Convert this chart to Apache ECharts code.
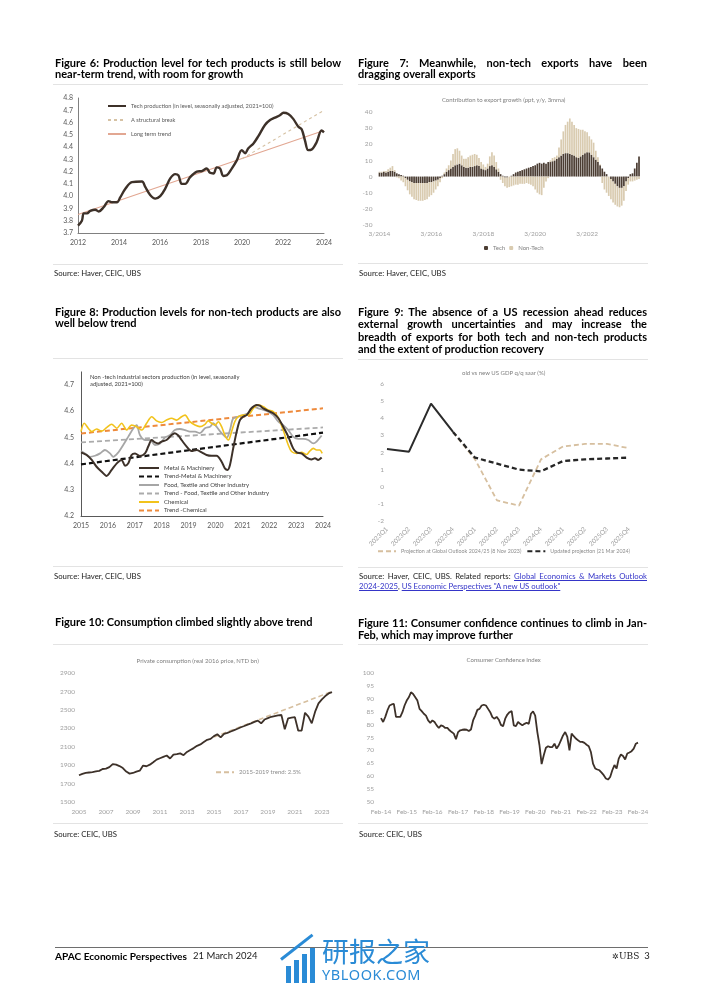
<!DOCTYPE html>
<html><head><meta charset="utf-8">
<script src="https://cdn.jsdelivr.net/npm/echarts@6.0.0/dist/echarts.min.js"></script>
<style>
html,body{margin:0;padding:0;background:#fff}
body{position:relative;width:702px;height:992px;overflow:hidden;font-family:Lato,"Noto Sans",sans-serif}
#chart{position:absolute;left:0;top:0;width:702px;height:992px}
.t{position:absolute;white-space:nowrap;line-height:12px}
.h{font-weight:700;font-size:10px;color:#000}
.s{font-size:8px;color:#222;line-height:10px}
.sub{font-size:6px;color:#7f7f7f;line-height:8px;transform:translateX(-50%)}
.note{font-size:5.8px;color:#404040;line-height:6.8px}
.r{position:absolute;height:1px;background:#e3e3e3}
a{color:#3535c8;text-decoration:underline}
</style></head><body>
<div id="chart"></div>

<!-- headings -->
<div class="t h" data-w="286" style="left:55px;top:56.7px"><span>Figure 6: Production level for tech products is still below</span></div>
<div class="t h" style="left:55px;top:68px"><span>near-term trend, with room for growth</span></div>
<div class="t h" data-w="289" style="left:358px;top:56.7px"><span>Figure 7: Meanwhile, non-tech exports have been</span></div>
<div class="t h" style="left:358px;top:68px"><span>dragging overall exports</span></div>
<div class="t h" data-w="286" style="left:55px;top:305.7px"><span>Figure 8: Production levels for non-tech products are also</span></div>
<div class="t h" style="left:55px;top:317.3px"><span>well below trend</span></div>
<div class="t h" data-w="289" style="left:358px;top:305.7px"><span>Figure 9: The absence of a US recession ahead reduces</span></div>
<div class="t h" data-w="289" style="left:358px;top:318px"><span>external growth uncertainties and may increase the</span></div>
<div class="t h" data-w="289" style="left:358px;top:330.7px"><span>breadth of exports for both tech and non-tech products</span></div>
<div class="t h" style="left:358px;top:343.3px"><span>and the extent of production recovery</span></div>
<div class="t h" id="h10" style="left:55px;top:615.7px"><span>Figure 10: Consumption climbed slightly above trend</span></div>
<div class="t h" data-w="289" style="left:358px;top:617.3px"><span>Figure 11: Consumer confidence continues to climb in Jan-</span></div>
<div class="t h" style="left:358px;top:629px"><span>Feb, which may improve further</span></div>

<!-- rules -->
<div class="r" style="left:53px;top:84px;width:290px"></div>
<div class="r" style="left:358px;top:84px;width:290px"></div>
<div class="r" style="left:53px;top:264px;width:290px"></div>
<div class="r" style="left:358px;top:263px;width:290px"></div>
<div class="r" style="left:53px;top:358px;width:290px"></div>
<div class="r" style="left:358px;top:359px;width:290px"></div>
<div class="r" style="left:53px;top:566px;width:290px"></div>
<div class="r" style="left:358px;top:567px;width:290px"></div>
<div class="r" style="left:53px;top:644px;width:290px"></div>
<div class="r" style="left:358px;top:644px;width:290px"></div>
<div class="r" style="left:53px;top:823px;width:290px"></div>
<div class="r" style="left:358px;top:823px;width:290px"></div>
<div class="r" style="left:55px;top:947px;width:593px;background:#6e6e6e"></div>

<!-- sources -->
<div class="t s" id="src6" style="left:54px;top:267.7px"><span>Source: Haver, CEIC, UBS</span></div>
<div class="t s" style="left:359px;top:267.7px"><span>Source: Haver, CEIC, UBS</span></div>
<div class="t s" style="left:54px;top:571px"><span>Source: Haver, CEIC, UBS</span></div>
<div class="t s" data-w="288" style="left:359px;top:571px"><span>Source: Haver, CEIC, UBS. Related reports: <a>Global Economics &amp; Markets Outlook</a></span></div>
<div class="t s" style="left:359px;top:580.7px"><span><a>2024-2025</a>, <a>US Economic Perspectives "A new US outlook"</a></span></div>
<div class="t s" style="left:54px;top:829.3px"><span>Source: CEIC, UBS</span></div>
<div class="t s" style="left:359px;top:829.3px"><span>Source: CEIC, UBS</span></div>

<!-- chart inner titles / notes -->
<div class="t sub" style="left:503.7px;top:96px">Contribution to export growth (ppt, y/y, 3mma)</div>
<div class="t sub" style="left:503.7px;top:369px">old vs new US GDP q/q saar (%)</div>
<div class="t sub" style="left:197.7px;top:656.7px">Private consumption (real 2016 price, NTD bn)</div>
<div class="t sub" style="left:503.7px;top:656px">Consumer Confidence Index</div>
<div class="t note" style="left:90px;top:374px">Non -tech industrial sectors production (in level, seasonally<br>adjusted, 2021=100)</div>

<!-- footer -->
<div class="t" id="foot1" style="left:55px;top:950px;font-weight:700;font-size:9.5px;color:#000"><span>APAC Economic Perspectives</span></div>
<div class="t" style="left:193px;top:950px;font-size:9.5px;color:#222"><span>21 March 2024</span></div>
<div class="t" style="left:612px;top:950px;font-size:9.5px;color:#222"><span style="font-size:8px">✲</span><span style="font-family:'DejaVu Serif';font-size:9px">UBS</span>&nbsp;&nbsp;3</div>

<!-- watermark -->
<div style="position:absolute;left:286px;top:966px;width:5px;height:17px;background:#2a8bd6"></div>
<div style="position:absolute;left:294px;top:960px;width:5px;height:23px;background:#2a8bd6"></div>
<div style="position:absolute;left:302px;top:954px;width:5px;height:29px;background:#2a8bd6"></div>
<div style="position:absolute;left:310px;top:948px;width:5px;height:35px;background:#2a8bd6"></div>
<div style="position:absolute;left:281px;top:958px;width:40px;height:3px;background:#2a8bd6;transform:rotate(-38deg);transform-origin:left center"></div>
<div class="t" style="left:322px;top:935px;line-height:32px;font-family:'Noto Sans CJK SC';font-size:27px;color:#2a8bd6">研报之家</div>
<div class="t" style="left:322px;top:965px;line-height:18px;font-family:'Noto Sans';font-size:14.5px;color:#2a8bd6;letter-spacing:0.6px">YBLOOK.COM</div>

<script>
// ================= DATA =================
// Figure 6: tech production (log level)
const fig6Years = [2012.00,2012.19,2012.28,2012.44,2012.60,2012.84,2013.01,2013.25,2013.49,2013.66,2013.90,2014.06,2014.31,2014.63,2015.12,2015.28,2015.52,2015.77,2016.01,2016.25,2016.50,2016.74,2016.90,2017.06,2017.23,2017.47,2017.80,2018.04,2018.28,2018.44,2018.61,2018.77,2018.93,2019.09,2019.26,2019.50,2019.74,2019.99,2020.15,2020.31,2020.56,2020.80,2021.12,2021.37,2021.61,2021.85,2022.02,2022.26,2022.50,2022.75,2022.91,2023.07,2023.23,2023.40,2023.64,2023.88,2024.00];
const fig6Tech = [3.76,3.80,3.86,3.86,3.88,3.89,3.875,3.91,3.96,3.95,3.95,3.99,4.06,4.115,4.12,4.075,4.01,3.98,4.00,4.06,4.145,4.18,4.17,4.10,4.10,4.155,4.20,4.205,4.225,4.19,4.185,4.235,4.225,4.165,4.17,4.225,4.29,4.375,4.35,4.39,4.43,4.49,4.58,4.62,4.64,4.66,4.68,4.67,4.63,4.565,4.545,4.455,4.375,4.38,4.44,4.535,4.52];
const fig6TrendYears = [2012, 2024];
const fig6Trend = [3.85, 4.535];
const fig6BreakYears = [2020, 2024];
const fig6Break = [4.305, 4.70];

// Figure 7: contribution to export growth, monthly from 3/2014
const fig7Start = [2014, 3];
const fig7Tech = [2.5,2.5,3,2.5,3,3.5,3.5,3,2,1.5,
 1,0.5,-1,-2,-3,-3.5,-4,-4,-4,-4,
 -4,-4,-4,-3.5,-3.5,-3,-2.5,-2,-1,0.5,
 1.5,3,4,5,6,7,7.5,8,7,6,
 5.5,5.5,6,6,6.5,7,6.5,5,4.5,4,
 5,6.5,7,6,4.5,3,1.5,0.5,-0.5,-0.5,
 0,0.5,1.5,2.5,3,3.5,4,4.5,5,5.5,
 6,6.5,7,8,8.5,8,8.5,8,9,9,
 9.5,10,11,12,13,14,14.5,14.5,14,13.5,
 13,12,11.5,12.5,13.5,14.5,15,15,13.5,12,
 10.5,9,7,5,3,1.5,0,-1.5,-3,-4.5,
 -6,-7,-7,-6,-3,-1,1.5,2,5,8.5,
 12.5];
const fig7NonTech = [0.5,0.5,0.5,1,1.5,2,3,1,-0.5,-1,
 -2.5,-3.5,-5,-6.5,-8,-9,-10,-10.5,-11,-11,
 -11,-10.5,-10,-9,-8,-7,-5.5,-4,-2.5,-1,
 1,2,3,5,8,10,10,8,6,5,
 5.5,6.5,7,7.5,7.5,6.5,5,4,3,2,
 3,6,8,7,4.5,2,-2,-4,-5.5,-6.5,
 -6.5,-6,-5.5,-5,-5,-4.5,-4.5,-4.5,-4,-4.5,
 -5,-6,-8,-10,-11,-11.5,-7,-3,-1,1,
 2,2,2,6,10,14,17.5,19.5,22,20.5,
 19,18,18,16.5,15.5,13.5,12.5,10,9.5,9,
 5.5,3,0.5,-4,-8,-10,-12,-12.5,-13,-13,
 -12.5,-12,-11,-9,-6,-4,-3,-3,-2.5,-2,
 -1.5];
const fig7TickLabels = ['3/2014','3/2016','3/2018','3/2020','3/2022'];

// Figure 8: non-tech production (log level)
const fig8MetalYears = [2015.00,2015.21,2015.40,2015.58,2015.77,2015.95,2016.14,2016.33,2016.51,2016.64,2016.76,2016.88,2017.01,2017.19,2017.38,2017.50,2017.63,2017.75,2017.87,2018.00,2018.18,2018.37,2018.49,2018.62,2018.74,2018.93,2019.11,2019.30,2019.49,2019.67,2019.86,2020.04,2020.23,2020.35,2020.45,2020.54,2020.66,2020.79,2020.91,2021.03,2021.16,2021.34,2021.53,2021.65,2021.78,2021.96,2022.15,2022.34,2022.52,2022.71,2022.89,2023.02,2023.20,2023.39,2023.57,2023.70,2023.82,2023.95];
const fig8Metal = [4.443,4.433,4.414,4.388,4.369,4.353,4.376,4.401,4.414,4.392,4.401,4.433,4.439,4.429,4.439,4.465,4.490,4.481,4.477,4.484,4.490,4.509,4.516,4.507,4.490,4.465,4.448,4.452,4.443,4.433,4.430,4.430,4.407,4.382,4.376,4.395,4.458,4.522,4.566,4.579,4.585,4.611,4.624,4.621,4.611,4.601,4.592,4.573,4.541,4.503,4.458,4.443,4.439,4.423,4.416,4.420,4.414,4.423];
const fig8FoodYears = [2015.00,2015.15,2015.33,2015.52,2015.71,2015.89,2016.08,2016.20,2016.39,2016.57,2016.76,2016.95,2017.07,2017.19,2017.38,2017.57,2017.75,2017.94,2018.12,2018.31,2018.49,2018.68,2018.87,2019.05,2019.24,2019.42,2019.61,2019.80,2019.92,2020.04,2020.23,2020.42,2020.54,2020.66,2020.85,2021.03,2021.22,2021.41,2021.59,2021.78,2021.96,2022.15,2022.34,2022.52,2022.71,2022.89,2023.08,2023.27,2023.45,2023.64,2023.76,2023.95];
const fig8Food = [4.448,4.439,4.426,4.430,4.439,4.452,4.439,4.426,4.443,4.471,4.503,4.535,4.547,4.509,4.490,4.490,4.471,4.477,4.499,4.509,4.528,4.532,4.528,4.522,4.522,4.516,4.535,4.541,4.554,4.541,4.516,4.499,4.528,4.573,4.579,4.585,4.592,4.617,4.611,4.605,4.598,4.585,4.560,4.547,4.528,4.503,4.494,4.494,4.490,4.477,4.484,4.507];
const fig8ChemYears = [2015.00,2015.12,2015.27,2015.40,2015.58,2015.77,2015.95,2016.14,2016.33,2016.51,2016.70,2016.88,2017.07,2017.26,2017.44,2017.63,2017.81,2018.00,2018.18,2018.37,2018.56,2018.74,2018.87,2019.05,2019.24,2019.42,2019.61,2019.73,2019.86,2019.98,2020.11,2020.23,2020.35,2020.48,2020.60,2020.72,2020.85,2021.03,2021.22,2021.41,2021.59,2021.78,2021.96,2022.15,2022.34,2022.52,2022.71,2022.83,2023.02,2023.20,2023.39,2023.51,2023.64,2023.76,2023.88,2023.97];
const fig8Chem = [4.522,4.554,4.535,4.522,4.532,4.524,4.537,4.550,4.535,4.554,4.528,4.547,4.541,4.528,4.554,4.579,4.563,4.557,4.566,4.573,4.566,4.579,4.585,4.560,4.547,4.541,4.550,4.563,4.554,4.547,4.560,4.541,4.509,4.490,4.522,4.560,4.579,4.585,4.585,4.611,4.624,4.617,4.605,4.598,4.575,4.528,4.471,4.446,4.439,4.443,4.435,4.448,4.458,4.452,4.452,4.439];
const fig8TrendYears = [2015, 2024];
const fig8MetalTrend = [4.397, 4.518];
const fig8FoodTrend = [4.481, 4.538];
const fig8ChemTrend = [4.515, 4.611];

// Figure 9: US GDP q/q saar
const fig9Quarters = ['2023Q1','2023Q2','2023Q3','2023Q4','2024Q1','2024Q2','2024Q3','2024Q4','2025Q1','2025Q2','2025Q3','2025Q4'];
const fig9Actual  = [2.2,2.05,4.85,3.2,null,null,null,null,null,null,null,null];
const fig9Updated = [null,null,null,3.2,1.7,1.35,1.0,0.9,1.5,1.6,1.65,1.7];
const fig9Old     = [null,null,null,3.2,1.6,-0.8,-1.1,1.6,2.35,2.5,2.5,2.25];

// Figure 10: private consumption, quarterly from 2005Q1
const fig10StartYear = 2005;
const fig10Consumption = [1790,1805,1815,1820,1825,1832,1838,1858,1862,1878,
 1912,1905,1890,1868,1830,1808,1815,1830,1840,1895,
 1888,1905,1932,1960,1975,1990,2005,1972,2015,2020,
 2028,2008,2043,2065,2085,2110,2125,2150,2175,2185,
 2215,2235,2202,2240,2250,2265,2280,2295,2311,2325,
 2340,2354,2370,2383,2354,2395,2410,2425,2433,2440,
 2444,2289,2408,2415,2420,2274,2274,2469,2426,2354,
 2480,2570,2614,2650,2678,2692];
const fig10TrendQuarters = ['2015Q1','2023Q4'];
const fig10Trend = [2205, 2700];
const fig10TickLabels = ['2005','2007','2009','2011','2013','2015','2017','2019','2021','2023'];

// Figure 11: consumer confidence index, monthly from Feb-14
const fig11Index = [82.5,81,83,85.5,87.4,87.8,88,83,83,83,
 84.8,87.4,89.3,90.6,92.5,91.9,90.6,89.3,86.1,85.2,
 84.2,83.5,81.6,80.7,81.6,81,79.7,78.7,79.7,79.4,
 78.7,78.7,77.8,77.1,76.5,74.3,77.1,77.8,78,78.1,
 78,77.5,78.1,81.6,83.5,85.7,86.1,87.4,87.7,87.4,
 86.1,84.8,82.9,82.3,83,81.9,79.9,79.4,82.3,83.9,
 84.8,85.2,79.7,79.4,81,80.3,79.7,80.3,80.7,80.3,
 84.2,85.1,83.5,77.1,72,64.7,68.1,71,71.6,71.3,
 71.3,72.6,70.7,72,73.9,75.8,77.1,75.2,70,76.5,
 75.5,74.6,73.9,73.3,73.3,72.9,72.2,71.6,69.4,64.9,
 63,62.6,62.3,61.4,60.4,59.1,58.7,59.7,62.3,64.3,
 63,66.8,68.4,67.8,66.5,68.8,69.2,69.7,70.7,72.6,
 73];
const fig11TickLabels = ['Feb-14','Feb-15','Feb-16','Feb-17','Feb-18','Feb-19','Feb-20','Feb-21','Feb-22','Feb-23','Feb-24'];

// ================= TEXT LAYOUT =================
(function layoutText(){
  const h10 = document.querySelector('#h10 span');
  const w10 = h10.getBoundingClientRect().width;
  const hfs = 10 * 258 / w10;
  document.querySelectorAll('.h').forEach(el => el.style.fontSize = hfs + 'px');
  const s6 = document.querySelector('#src6 span');
  const ws6 = s6.getBoundingClientRect().width;
  const sfs = 8 * 87 / ws6;
  document.querySelectorAll('.s').forEach(el => el.style.fontSize = sfs + 'px');
  const f1 = document.querySelector('#foot1 span');
  const fw = f1.getBoundingClientRect().width;
  document.getElementById('foot1').style.fontSize = (9.5 * 132 / fw) + 'px';
  document.querySelectorAll('[data-w]').forEach(el => {
    const span = el.firstElementChild;
    const w = span.getBoundingClientRect().width;
    const target = parseFloat(el.dataset.w);
    const n = (span.textContent.match(/ /g) || []).length;
    if (n > 0) el.style.wordSpacing = ((target - w) / n) + 'px';
  });
})();

// ================= CHART =================
const zip = (xs, ys) => xs.map((x, i) => [x, ys[i]]);
const MON = ['Jan','Feb','Mar','Apr','May','Jun','Jul','Aug','Sep','Oct','Nov','Dec'];
const fig7Cats = fig7Tech.map((_, i) => { const t = fig7Start[1] - 1 + i; return (t % 12 + 1) + '/' + (fig7Start[0] + Math.floor(t / 12)); });
const fig10Cats = fig10Consumption.map((_, i) => (fig10StartYear + Math.floor(i / 4)) + 'Q' + (i % 4 + 1));
const fig11Cats = fig11Index.map((_, i) => { const t = 1 + i; return MON[t % 12] + '-' + String(14 + Math.floor(t / 12)).padStart(2, '0'); });

const DARK = '#3d3129';
const lightLab = {fontSize: 6.5, color: '#a0a0a0'};
const darkLab = {fontSize: 7, color: '#595959'};
const noLine = {show: false};
const plain = v => String(v);

const chart = echarts.init(document.getElementById('chart'), null, {renderer: 'canvas', width: 702, height: 992});
const option = {
  animation: false,
  backgroundColor: 'transparent',
  textStyle: {fontFamily: 'Lato'},
  grid: [
    {left: 78, top: 98, width: 246, height: 135},
    {left: 378.4, top: 112, width: 261.7, height: 113},
    {left: 81, top: 371.9, width: 242, height: 144.1},
    {left: 387, top: 384, width: 242, height: 137},
    {left: 79, top: 673, width: 253, height: 129},
    {left: 381, top: 673, width: 257, height: 129}
  ],
  xAxis: [
    {gridIndex: 0, type: 'value', min: 2012, max: 2024, interval: 2,
     axisLine: {show: true, lineStyle: {color: '#808080', width: 1}}, axisTick: noLine, splitLine: noLine,
     axisLabel: Object.assign({margin: 6, formatter: plain}, darkLab)},
    {gridIndex: 1, type: 'category', data: fig7Cats, boundaryGap: true,
     axisLine: {show: false, onZero: false}, axisTick: noLine, splitLine: noLine,
     axisLabel: Object.assign({margin: 5, interval: (i, v) => fig7TickLabels.includes(v)}, lightLab)},
    {gridIndex: 2, type: 'value', min: 2015, max: 2024, interval: 1,
     axisLine: {show: true, lineStyle: {color: '#595959', width: 1}}, axisTick: noLine, splitLine: noLine,
     axisLabel: Object.assign({margin: 6, formatter: plain}, darkLab)},
    {gridIndex: 3, type: 'category', data: fig9Quarters, boundaryGap: false,
     axisLine: {show: false}, axisTick: noLine, splitLine: noLine,
     axisLabel: Object.assign({margin: 7, rotate: 45, interval: 0}, lightLab)},
    {gridIndex: 4, type: 'category', data: fig10Cats, boundaryGap: false,
     axisLine: {show: false}, axisTick: noLine, splitLine: noLine,
     axisLabel: Object.assign({margin: 6, interval: (i, v) => v.endsWith('Q1') && fig10TickLabels.includes(v.slice(0, 4)),
       formatter: v => v.slice(0, 4)}, lightLab)},
    {gridIndex: 5, type: 'category', data: fig11Cats, boundaryGap: false,
     axisLine: {show: false}, axisTick: noLine, splitLine: noLine,
     axisLabel: Object.assign({margin: 6, interval: (i, v) => fig11TickLabels.includes(v)}, lightLab)}
  ],
  yAxis: [
    {gridIndex: 0, type: 'value', min: 3.7, max: 4.8, interval: 0.1,
     axisLine: {show: true, lineStyle: {color: '#808080', width: 1}}, axisTick: noLine, splitLine: noLine,
     axisLabel: Object.assign({margin: 5, formatter: v => v.toFixed(1)}, darkLab)},
    {gridIndex: 1, type: 'value', min: -30, max: 40, interval: 10,
     axisLine: noLine, axisTick: noLine, splitLine: noLine,
     axisLabel: Object.assign({margin: 6, formatter: plain}, lightLab)},
    {gridIndex: 2, type: 'value', min: 4.2, max: 4.75, interval: 0.1,
     axisLine: {show: true, lineStyle: {color: '#595959', width: 1}}, axisTick: noLine, splitLine: noLine,
     axisLabel: Object.assign({margin: 7, showMaxLabel: false, formatter: v => v.toFixed(1)}, darkLab)},
    {gridIndex: 3, type: 'value', min: -2, max: 6, interval: 1,
     axisLine: noLine, axisTick: noLine, splitLine: noLine,
     axisLabel: Object.assign({margin: 3, formatter: plain}, lightLab)},
    {gridIndex: 4, type: 'value', min: 1500, max: 2900, interval: 200,
     axisLine: noLine, axisTick: noLine, splitLine: noLine,
     axisLabel: Object.assign({margin: 4, formatter: plain}, lightLab)},
    {gridIndex: 5, type: 'value', min: 50, max: 100, interval: 5,
     axisLine: noLine, axisTick: noLine, splitLine: noLine,
     axisLabel: Object.assign({margin: 7, formatter: plain}, lightLab)}
  ],
  legend: [
    {orient: 'vertical', left: 102, top: 97, itemWidth: 18, itemHeight: 10, itemGap: 6,
     itemStyle: {opacity: 0},
     textStyle: {fontSize: 5.7, color: '#595959'},
     data: ['Tech production (in level, seasonally adjusted, 2021=100)', 'A structural break', 'Long term trend']},
    {orient: 'horizontal', left: 479, top: 240, itemWidth: 4, itemHeight: 4, itemGap: 4,
     textStyle: {fontSize: 6, color: '#808080'}, data: ['Tech', 'Non-Tech']},
    {orient: 'vertical', left: 133, top: 459, itemWidth: 20, itemHeight: 8, itemGap: 0.5,
     itemStyle: {opacity: 0},
     textStyle: {fontSize: 6, color: '#404040', lineHeight: 8},
     data: ['Metal & Machinery', 'Trend-Metal & Machinery', 'Food, Textile and Other Industry',
            'Trend - Food, Textile and Other Industry', 'Chemical', 'Trend -Chemical']},
    {orient: 'horizontal', left: 372, top: 543, itemWidth: 18, itemHeight: 8, itemGap: 5,
     itemStyle: {opacity: 0},
     textStyle: {fontSize: 5.3, color: '#8c8c8c'},
     data: ['Projection at Global Outlook 2024/25 (8 Nov 2023)', 'Updated projection (21 Mar 2024)']},
    {orient: 'horizontal', left: 210, top: 764, itemWidth: 18, itemHeight: 8,
     itemStyle: {opacity: 0},
     textStyle: {fontSize: 6, color: '#8c8c8c'}, data: ['2015-2019 trend: 2.5%']}
  ],
  series: [
    // Figure 6
    {name: 'Long term trend', type: 'line', xAxisIndex: 0, yAxisIndex: 0, symbol: 'none',
     data: zip(fig6TrendYears, fig6Trend), lineStyle: {color: '#e2a792', width: 1.1}, itemStyle: {color: '#e2a792'}},
    {name: 'A structural break', type: 'line', xAxisIndex: 0, yAxisIndex: 0, symbol: 'none',
     data: zip(fig6BreakYears, fig6Break), lineStyle: {color: '#d6c2a4', width: 1.1, type: [3, 3]}, itemStyle: {color: '#d6c2a4'}},
    {name: 'Tech production (in level, seasonally adjusted, 2021=100)', type: 'line', xAxisIndex: 0, yAxisIndex: 0,
     symbol: 'none', smooth: 0.35, data: zip(fig6Years, fig6Tech), lineStyle: {color: DARK, width: 2.4}, itemStyle: {color: DARK}},
    // Figure 7
    {name: 'Tech', type: 'bar', xAxisIndex: 1, yAxisIndex: 1, stack: 'f7', barCategoryGap: '22%',
     data: fig7Tech, itemStyle: {color: '#4b3d33'}},
    {name: 'Non-Tech', type: 'bar', xAxisIndex: 1, yAxisIndex: 1, stack: 'f7', barCategoryGap: '22%',
     data: fig7NonTech, itemStyle: {color: '#d9cbb0'}},
    // Figure 8
    {name: 'Trend-Metal & Machinery', type: 'line', xAxisIndex: 2, yAxisIndex: 2, symbol: 'none',
     data: zip(fig8TrendYears, fig8MetalTrend), lineStyle: {color: '#111', width: 2.2, type: [5, 3]}, itemStyle: {color: '#111'}},
    {name: 'Trend - Food, Textile and Other Industry', type: 'line', xAxisIndex: 2, yAxisIndex: 2, symbol: 'none',
     data: zip(fig8TrendYears, fig8FoodTrend), lineStyle: {color: '#ababab', width: 1.8, type: [5, 3]}, itemStyle: {color: '#ababab'}},
    {name: 'Trend -Chemical', type: 'line', xAxisIndex: 2, yAxisIndex: 2, symbol: 'none',
     data: zip(fig8TrendYears, fig8ChemTrend), lineStyle: {color: '#ee8a3c', width: 2, type: [5, 3]}, itemStyle: {color: '#ee8a3c'}},
    {name: 'Food, Textile and Other Industry', type: 'line', xAxisIndex: 2, yAxisIndex: 2, symbol: 'none', smooth: 0.3,
     data: zip(fig8FoodYears, fig8Food), lineStyle: {color: '#a6a6a6', width: 1.8}, itemStyle: {color: '#a6a6a6'}},
    {name: 'Chemical', type: 'line', xAxisIndex: 2, yAxisIndex: 2, symbol: 'none', smooth: 0.3,
     data: zip(fig8ChemYears, fig8Chem), lineStyle: {color: '#f2c31c', width: 1.6}, itemStyle: {color: '#f2c31c'}},
    {name: 'Metal & Machinery', type: 'line', xAxisIndex: 2, yAxisIndex: 2, symbol: 'none', smooth: 0.3,
     data: zip(fig8MetalYears, fig8Metal), lineStyle: {color: DARK, width: 2}, itemStyle: {color: DARK}},
    // Figure 9
    {name: 'Projection at Global Outlook 2024/25 (8 Nov 2023)', type: 'line', xAxisIndex: 3, yAxisIndex: 3, symbol: 'none',
     data: fig9Old, lineStyle: {color: '#d6bf9f', width: 1.8, type: [5, 3]}, itemStyle: {color: '#d6bf9f'}},
    {name: 'Updated projection (21 Mar 2024)', type: 'line', xAxisIndex: 3, yAxisIndex: 3, symbol: 'none',
     data: fig9Updated, lineStyle: {color: '#262626', width: 2.3, type: [5, 3]}, itemStyle: {color: '#262626'}},
    {name: 'US GDP actual', type: 'line', xAxisIndex: 3, yAxisIndex: 3, symbol: 'none',
     data: fig9Actual, lineStyle: {color: '#2b2b2b', width: 2}, itemStyle: {color: '#2b2b2b'}},
    // Figure 10
    {name: '2015-2019 trend: 2.5%', type: 'line', xAxisIndex: 4, yAxisIndex: 4, symbol: 'none',
     data: zip(fig10TrendQuarters.map(q => fig10Cats.indexOf(q)), fig10Trend),
     lineStyle: {color: '#d6bf9f', width: 1.6, type: [5, 3]}, itemStyle: {color: '#d6bf9f'}},
    {name: 'Private consumption', type: 'line', xAxisIndex: 4, yAxisIndex: 4, symbol: 'none',
     data: fig10Consumption, lineStyle: {color: DARK, width: 1.8}, itemStyle: {color: DARK}},
    // Figure 11
    {name: 'Consumer Confidence Index', type: 'line', xAxisIndex: 5, yAxisIndex: 5, symbol: 'none',
     data: fig11Index, lineStyle: {color: DARK, width: 1.8}, itemStyle: {color: DARK}}
  ]
};
chart.setOption(option);
</script>
</body></html>
